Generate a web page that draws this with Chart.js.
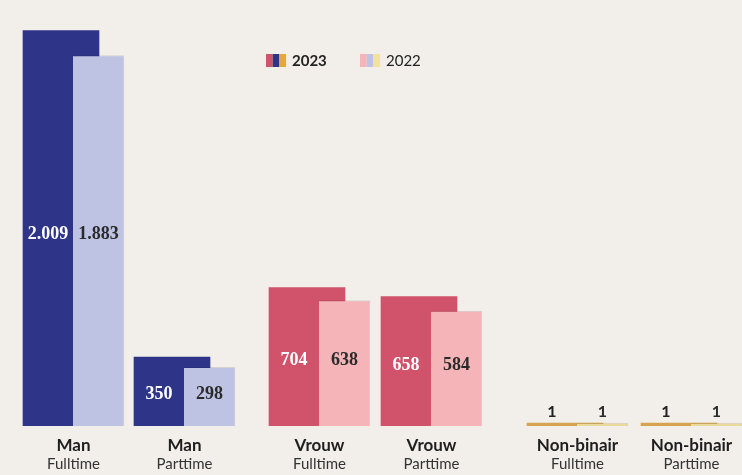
<!DOCTYPE html>
<html>
<head>
<meta charset="utf-8">
<script src="https://cdn.jsdelivr.net/npm/chart.js@4/dist/chart.umd.min.js"></script>
<style>
  html, body { margin: 0; padding: 0; background: #f2efea; }
  #wrap { width: 742px; height: 475px; position: relative; }
</style>
</head>
<body>
<div id="wrap"><canvas id="mycanvas"></canvas></div>
<script>
// data
var genders = ['Man', 'Man', 'Vrouw', 'Vrouw', 'Non-binair', 'Non-binair'];
var jobTypes = ['Fulltime', 'Parttime', 'Fulltime', 'Parttime', 'Fulltime', 'Parttime'];
var values2023 = [2009, 350, 704, 658, 1, 1];
var values2022 = [1883, 298, 638, 584, 1, 1];
var years = ['2023', '2022'];

// layout (x centre of every group on a 0..742 axis)
var slotX = [73.5, 184.5, 319.5, 431.5, 577.5, 691.5];

var colors2023 = ['#2e3589', '#2e3589', '#d0536b', '#d0536b', '#d6a451', '#d6a451'];
var colors2022 = ['#bec3e3', '#bec3e3', '#f5b5b8', '#f5b5b8', '#eadb9c', '#eadb9c'];
var labelColor2023 = ['#ffffff', '#ffffff', '#ffffff', '#ffffff', '#222222', '#222222'];

function points(vals, shift) {
  var out = [];
  for (var i = 0; i < vals.length; i++) {
    out.push({x: slotX[i] + shift, y: vals[i]});
  }
  return out;
}

// value labels inside / above the bars
var valueLabels = {
  id: 'valueLabels',
  afterDatasetsDraw: function(chart) {
    var ctx = chart.ctx;
    var m23 = chart.getDatasetMeta(0).data;
    var m22 = chart.getDatasetMeta(1).data;
    ctx.save();
    ctx.textAlign = 'center';
    ctx.textBaseline = 'middle';
    for (var i = 0; i < m23.length; i++) {
      var a = m23[i], b = m22[i];
      var leftA = a.x - a.width / 2;
      var leftB = b.x - b.width / 2;
      var y;
      if (a.base - a.y < 20) {
        // too thin: put the numbers above
        y = Math.min(a.y, b.y) - 11;
        ctx.font = 'bold 16px Lato';
        ctx.fillStyle = '#222222';
      } else {
        y = ((a.y + a.base) / 2 + (b.y + b.base) / 2) / 2;
        ctx.font = 'bold 18px "Liberation Serif", serif';
        ctx.fillStyle = labelColor2023[i];
      }
      ctx.fillText(values2023[i].toLocaleString('nl-NL'), (leftA + leftB) / 2, y);
      ctx.fillStyle = '#2a2a2a';
      ctx.fillText(values2022[i].toLocaleString('nl-NL'), b.x, y);
    }
    ctx.restore();
  }
};

// two-line category labels under the groups
var groupLabels = {
  id: 'groupLabels',
  afterDraw: function(chart) {
    var ctx = chart.ctx;
    var xs = chart.scales.x;
    var bottom = chart.chartArea.bottom;
    ctx.save();
    ctx.textAlign = 'center';
    ctx.textBaseline = 'middle';
    for (var i = 0; i < slotX.length; i++) {
      var px = xs.getPixelForValue(slotX[i]);
      ctx.fillStyle = '#1e1e1e';
      ctx.font = 'bold 17px Lato';
      ctx.fillText(genders[i], px, bottom + 20);
      ctx.fillStyle = '#333333';
      ctx.font = '15px Lato';
      ctx.fillText(jobTypes[i], px, bottom + 38);
    }
    ctx.restore();
  }
};

// legend with striped swatches
var stripeLegend = {
  id: 'stripeLegend',
  afterDraw: function(chart) {
    var ctx = chart.ctx;
    var items = [
      {x: 266, cols: ['#d0536b', '#2e3589', '#e2a93c'], font: 'bold 15px Lato', text: years[0]},
      {x: 360, cols: ['#f5b5b8', '#bec3e3', '#f3e29b'], font: '15px Lato', text: years[1]}
    ];
    ctx.save();
    items.forEach(function(it) {
      for (var k = 0; k < 3; k++) {
        ctx.fillStyle = it.cols[k];
        ctx.fillRect(it.x + k * 6.7, 54, 6.7, 13);
      }
      ctx.fillStyle = '#222222';
      ctx.font = it.font;
      ctx.textBaseline = 'middle';
      ctx.textAlign = 'left';
      ctx.fillText(it.text, it.x + 26, 61);
    });
    ctx.restore();
  }
};

var ctx = document.getElementById('mycanvas');

var barGraph = new Chart(ctx, {
  type: 'bar',
  data: {
    datasets: [
      {
        label: years[0],
        data: points(values2023, -12.5),
        backgroundColor: colors2023,
        barThickness: 76,
        minBarLength: 3,
        order: 2
      },
      {
        label: years[1],
        data: points(values2022, 25),
        backgroundColor: colors2022,
        borderColor: 'rgba(0,0,0,0.12)',
        borderWidth: {top: 1, right: 1, left: 0, bottom: 0},
        borderSkipped: 'bottom',
        barThickness: 51,
        minBarLength: 3,
        order: 1
      }
    ]
  },
  options: {
    maintainAspectRatio: false,
    animation: false,
    events: [],
    layout: {padding: {left: 0, right: 0, top: 0, bottom: 49}},
    datasets: {bar: {grouped: false}},
    plugins: {legend: {display: false}, tooltip: {enabled: false}},
    scales: {
      x: {
        type: 'linear',
        display: false,
        offset: false,
        min: 0,
        max: 742
      },
      y: {
        display: false,
        min: 0,
        max: 2165
      }
    }
  },
  plugins: [valueLabels, groupLabels, stripeLegend]
});
</script>
</body>
</html>
